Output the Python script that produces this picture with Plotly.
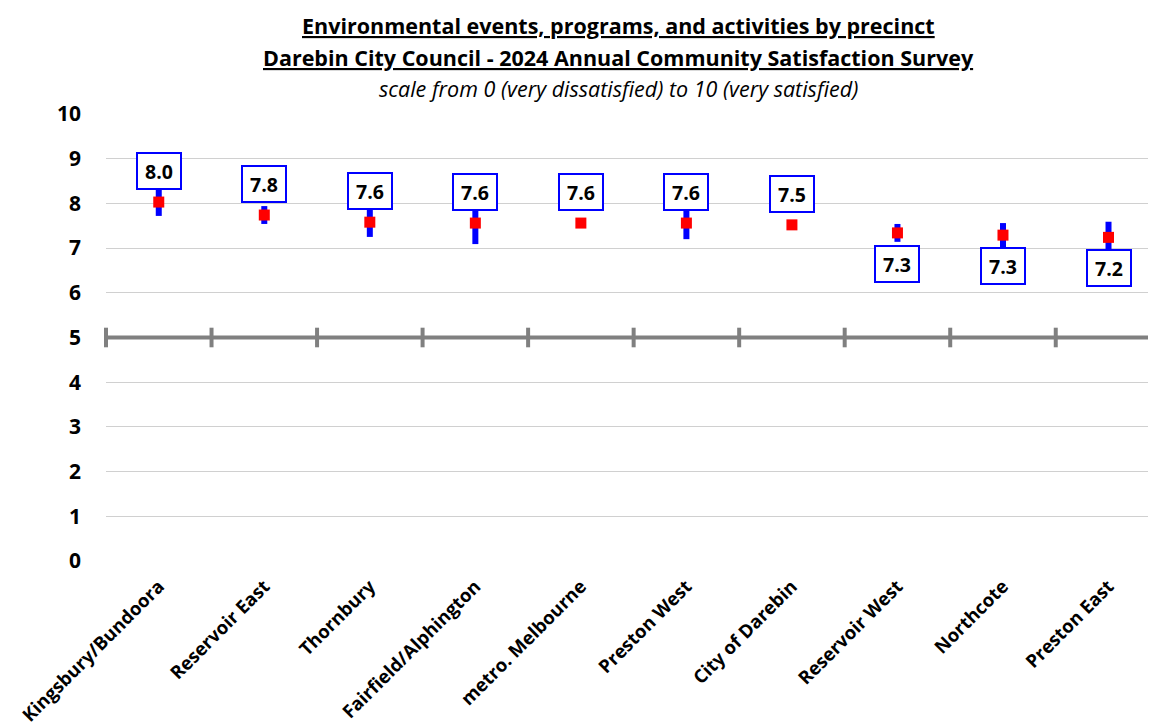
import plotly.graph_objects as go


# precinct results (mean score and 95% confidence interval half-width)
CATEGORIES = [
	'Kingsbury/Bundoora',
	'Reservoir East',
	'Thornbury',
	'Fairfield/Alphington',
	'metro. Melbourne',
	'Preston West',
	'City of Darebin',
	'Reservoir West',
	'Northcote',
	'Preston East',
]
MEANS      = [ 8.03, 7.74, 7.58, 7.56, 7.56, 7.56, 7.52, 7.34, 7.29, 7.24, ]
ERRORS     = [ 0.31, 0.20, 0.33, 0.47, 0.00, 0.36, 0.00, 0.20, 0.27, 0.35, ]
LABELS     = [ '8.0', '7.8', '7.6', '7.6', '7.6', '7.6', '7.5', '7.3', '7.3', '7.2', ]
LABEL_UP   = [ True, True, True, True, True, True, True, False, False, False, ]

Y_TICKS    = [ 0, 1, 2, 3, 4, 5, 6, 7, 8, 9, 10, ]
MIDLINE    = 5

TITLE_1 = 'Environmental events, programs, and activities by precinct'
TITLE_2 = 'Darebin City Council - 2024 Annual Community Satisfaction Survey'
TITLE_3 = 'scale from 0 (very dissatisfied) to 10 (very satisfied)'

FONT = 'Open Sans, Carlito, Calibri, sans-serif'
GREY = '#808080'

# the page body has an 8px margin, so the figure is drawn 8px in from the corner
PAGE_OFFSET = 8


def main() -> None:
	xs = list(range(len(CATEGORIES)))

	fig = go.Figure()

	# the mid-scale line with its category separators
	fig.add_shape(
		type='line', xref='paper', x0=0, x1=1, yref='y', y0=MIDLINE, y1=MIDLINE,
		line=dict(color=GREY, width=4),
	)
	fig.add_trace(go.Scatter(
		x=[ x - 0.5 for x in xs ],
		y=[ MIDLINE ] * len(xs),
		mode='markers',
		marker=dict(symbol='line-ns-open', size=14, color=GREY, line=dict(color=GREY, width=4)),
		cliponaxis=False,
		hoverinfo='skip',
		showlegend=False,
	))

	# means with confidence intervals
	fig.add_trace(go.Scatter(
		x=xs,
		y=MEANS,
		mode='markers',
		marker=dict(symbol='square', size=11, color='#ff0000'),
		error_y=dict(type='data', array=ERRORS, color='#0000ff', thickness=6, width=0),
		cliponaxis=False,
		showlegend=False,
	))

	for x, y, txt, up in zip(xs, MEANS, LABELS, LABEL_UP):
		fig.add_annotation(
			x=x, y=y, text='<b>%s</b>' % txt, showarrow=False,
			yshift=31 if up else -31,
			font=dict(family=FONT, size=19.5, color='black'),
			bgcolor='white', bordercolor='#0000ff', borderwidth=2,
			width=42, height=34, borderpad=0,
		)

	# titles
	for txt, yPix in [
		('<b><u>%s</u></b>' % TITLE_1, 25),
		('<b><u>%s</u></b>' % TITLE_2, 58),
		('<i>%s</i>' % TITLE_3, 88),
	]:
		fig.add_annotation(
			text=txt, showarrow=False, xref='paper', yref='paper',
			x=0.488, y=1 + (114 - yPix) / 447, xanchor='center', yanchor='middle',
			font=dict(family=FONT, size=21.5, color='black'),
		)

	figHeight = 726 - PAGE_OFFSET
	fig.update_layout(
		width=1156 - PAGE_OFFSET,
		height=figHeight,
		margin=dict(
			l=106 - PAGE_OFFSET,
			r=0,
			t=114 - PAGE_OFFSET,
			b=figHeight - (561 - PAGE_OFFSET),
		),
		plot_bgcolor='white',
		paper_bgcolor='white',
		font=dict(family=FONT, color='black'),
	)
	fig.update_xaxes(
		range=[ -0.5, 9.45 ],
		tickvals=xs,
		ticktext=[ '<b>%s</b>' % c for c in CATEGORIES ],
		tickangle=-45,
		tickfont=dict(size=18.5),
		ticklabelstandoff=10,
		automargin=False,
		showgrid=False,
		zeroline=False,
		showline=False,
		ticks='',
	)
	fig.update_yaxes(
		range=[ 0, 10 ],
		tickvals=Y_TICKS,
		ticktext=[ '<b>%d</b>' % t for t in Y_TICKS ],
		tickfont=dict(size=21),
		ticklabelstandoff=24,
		automargin=False,
		showgrid=True,
		gridcolor='#d0d0d0',
		gridwidth=1,
		zeroline=False,
		showline=False,
	)

	fig.write_html('out.html')


if __name__ == '__main__':
	main()
